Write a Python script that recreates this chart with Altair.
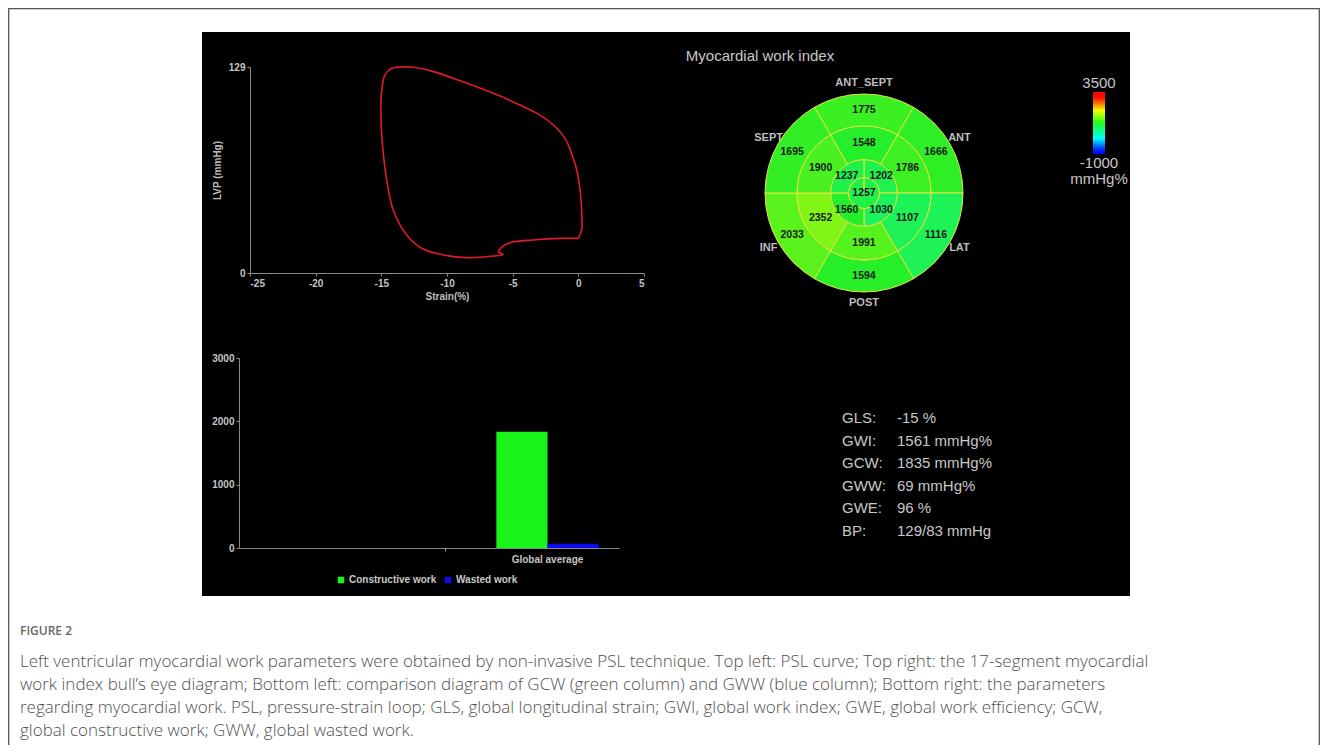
import altair as alt
import pandas as pd

# ---------------- data ----------------
# Pressure-strain loop (strain %, LV pressure mmHg), traced in drawing order
strain = [0.0, 0.25, 0.25, 0.13, -0.12, -0.43, -1.01, -1.90, -2.92, -4.44, -6.47, -8.50,
          -11.04, -12.56, -13.58, -14.21, -14.72, -14.97, -15.03, -14.90, -14.59, -14.09,
          -13.07, -11.93, -10.28, -8.50, -6.47, -5.71, -6.09, -5.85, -5.20, -3.43, -1.40, 0.0]
lvp = [21.7, 26.9, 39.5, 52.0, 64.5, 72.8, 84.3, 92.7, 98.9, 105.2, 112.5, 118.8,
       126.1, 128.8, 129.0, 128.2, 124.0, 114.6, 97.9, 79.1, 58.2, 39.5,
       23.8, 15.5, 11.3, 9.6, 10.6, 11.5, 13.3, 16.1, 19.0, 20.7, 21.7, 21.7]

# Bar chart
bar_categories = [" ", "Global average"]
bar_series = ["Constructive work", "Wasted work"]
bar_values = [1835, 69]

# Bull's eye (clockwise from top / upper-right)
sector_names = ["ANT_SEPT", "ANT", "LAT", "POST", "INF", "SEPT"]
basal_values = [1775, 1666, 1116, 1594, 2033, 1695]
mid_values = [1548, 1786, 1107, 1991, 2352, 1900]
apical_values = [1202, 1030, 1560, 1237]
apex_value = 1257
color_domain = [-1000, -600, 1600, 3400, 3500]
color_range = ["#0000ff", "#00ffff", "#26ee26", "#ffff00", "#ff0000"]
colorbar_labels = ["3500", "-1000", "mmHg%"]

# Parameters table
stat_names = ["GLS:", "GWI:", "GCW:", "GWW:", "GWE:", "BP:"]
stat_values = ["-15 %", "1561 mmHg%", "1835 mmHg%", "69 mmHg%", "96 %", "129/83 mmHg"]

caption_head = "FIGURE 2"
caption_lines = [
    "Left ventricular myocardial work parameters were obtained by non-invasive PSL technique. Top left: PSL curve; Top right: the 17-segment myocardial",
    "work index bull\u2019s eye diagram; Bottom left: comparison diagram of GCW (green column) and GWW (blue column); Bottom right: the parameters",
    "regarding myocardial work. PSL, pressure-strain loop; GLS, global longitudinal strain; GWI, global work index; GWE, global work efficiency; GCW,",
    "global constructive work; GWW, global wasted work.",
]

# ---------------- tables ----------------
W, H = 1312, 737
CX, CY = 856, 185
FONT = "Liberation Sans"

loop_df = pd.DataFrame({"strain": strain, "lvp": lvp, "i": list(range(len(strain)))})
bar_df = pd.DataFrame({"group": ["Global average"] * 2, "series": bar_series, "value": bar_values})

rows = []
for k, v in enumerate(basal_values):
    rows.append(dict(value=v, t0=-30 + 60 * k, t1=30 + 60 * k, tm=60 * k, r_in=3, r_out=4, r_lab=3.5))
for k, v in enumerate(mid_values):
    rows.append(dict(value=v, t0=-30 + 60 * k, t1=30 + 60 * k, tm=60 * k, r_in=2, r_out=3, r_lab=2.5))
for k, v in enumerate(apical_values):
    rows.append(dict(value=v, t0=90 * k, t1=90 * (k + 1), tm=45 + 90 * k, r_in=1, r_out=2, r_lab=1.5))
rows.append(dict(value=apex_value, t0=0, t1=360, tm=0, r_in=0, r_out=1, r_lab=0))
seg_df = pd.DataFrame(rows)
sector_df = pd.DataFrame({"name": sector_names, "tm": [60 * k for k in range(6)], "r_lab": [4.35] * 6})

stats_df = pd.DataFrame({"name": stat_names, "val": stat_values})
cap_df = pd.DataFrame({"line": list(range(len(caption_lines))), "txt": caption_lines})
one = pd.DataFrame({"k": [0]})

theta_scale = alt.Scale(domain=[0, 360], range=[0, 6.283185307])
radius_scale = alt.Scale(type="linear", domain=[0, 1, 2, 3, 4], range=[0, 15.5, 33.3, 67, 99], zero=False, nice=False)

ax = dict(domainColor="#8a8a8a", tickColor="#8a8a8a", tickSize=3, labelColor="#c4c4c4",
          labelFont=FONT, labelFontSize=10, labelFontWeight="bold", grid=False, zindex=2,
          titleColor="#bdbdbd", titleFont=FONT, titleFontSize=10, titleFontWeight="bold", labelPadding=2,
          labelExpr="'' + datum.value")

# ---------------- layers ----------------
frame = alt.Chart(one).mark_rect(fill="white", stroke="#555555", strokeWidth=1.3).encode(
    x=alt.value(0.7), x2=alt.value(W - 0.7), y=alt.value(0.7), y2=alt.value(H + 30))

panel = alt.Chart(one).mark_rect(fill="black").encode(
    x=alt.value(194), x2=alt.value(1122), y=alt.value(24), y2=alt.value(588))

loop = alt.Chart(loop_df).mark_line(color="#e01a2a", strokeWidth=1.6, interpolate="catmull-rom").encode(
    x=alt.X("strain:Q", scale=alt.Scale(domain=[-25, 5], range=[242, 636], nice=False, zero=False),
            axis=alt.Axis(orient="bottom", offset=265 - H, values=[-25, -20, -15, -10, -5, 0, 5],
                          title="Strain(%)", titlePadding=3, **ax)),
    y=alt.Y("lvp:Q", scale=alt.Scale(domain=[0, 129], range=[265, 59], nice=False),
            axis=alt.Axis(orient="left", offset=-242, values=[0, 129], title="LVP (mmHg)", titlePadding=6, **ax)),
    order="i:Q")

bars = alt.Chart(bar_df).mark_bar().encode(
    x=alt.X("group:N", scale=alt.Scale(domain=bar_categories, range=[231, 611], paddingInner=0,
                                       paddingOuter=0.857, align=0.884),
            axis=alt.Axis(orient="bottom", offset=540 - H, title=None, labelAngle=0,
                          **{**ax, "tickColor": {"condition": {"test": "datum.value == 'Global average'", "value": "transparent"},
                                                 "value": "#8a8a8a"}, "labelPadding": 3, "labelExpr": "datum.label"})),
    xOffset=alt.XOffset("series:N", scale=alt.Scale(domain=bar_series, paddingInner=0, paddingOuter=0)),
    y=alt.Y("value:Q", scale=alt.Scale(domain=[0, 3000], range=[540, 350], nice=False),
            axis=alt.Axis(orient="left", offset=-231, values=[0, 1000, 2000, 3000], title=None, **ax)),
    color=alt.Color("series:N", scale=alt.Scale(domain=bar_series, range=["#18f318", "#0b0bee"]),
                    legend=alt.Legend(orient="none", legendX=328, legendY=567, direction="horizontal", title=None,
                                      symbolType="square", symbolSize=42, symbolStrokeWidth=0,
                                      labelColor="#c8c8c8", labelFont=FONT, labelFontSize=10,
                                      labelFontWeight="bold", labelOffset=3, columnPadding=6, padding=0)))

sector_text = alt.Chart(sector_df).mark_text(font=FONT, fontSize=11, fontWeight="bold", color="#bdbdbd").encode(
    theta=alt.Theta("tm:Q", stack=None, scale=theta_scale),
    radius=alt.Radius("r_lab:Q", scale=radius_scale),
    text="name:N", x=alt.value(CX), y=alt.value(CY))

arcs = alt.Chart(seg_df).mark_arc(stroke="#e6e640", strokeWidth=1).encode(
    theta=alt.Theta("t0:Q", stack=None, scale=theta_scale),
    theta2="t1:Q",
    radius=alt.Radius("r_out:Q", scale=radius_scale),
    radius2="r_in:Q",
    color=alt.Color("value:Q", scale=alt.Scale(domain=color_domain, range=color_range, interpolate="rgb"),
                    legend=None),
    x=alt.value(CX), y=alt.value(CY))

seg_text = alt.Chart(seg_df).mark_text(font=FONT, fontSize=10.5, fontWeight="bold", color="#1a1a1a").encode(
    theta=alt.Theta("tm:Q", stack=None, scale=theta_scale),
    radius=alt.Radius("r_lab:Q", scale=radius_scale),
    text=alt.Text("value:Q", format="d"), x=alt.value(CX), y=alt.value(CY))

# colour bar of the device display (red top -> blue bottom)
cbar = alt.Chart(one).mark_rect(
    fill=alt.Gradient(gradient="linear", x1=0, x2=0, y1=0, y2=1,
                      stops=[alt.GradientStop(offset=0.0, color="#ff0000"),
                             alt.GradientStop(offset=0.1, color="#ff1000"),
                             alt.GradientStop(offset=0.3, color="#f0ff00"),
                             alt.GradientStop(offset=0.5, color="#20ff20"),
                             alt.GradientStop(offset=0.75, color="#00ffff"),
                             alt.GradientStop(offset=0.92, color="#0030ff"),
                             alt.GradientStop(offset=1.0, color="#0000ff")])
).encode(x=alt.value(1085), x2=alt.value(1097), y=alt.value(84), y2=alt.value(146))

title = alt.Chart(one).mark_text(font=FONT, fontSize=15, color="#c8c8c8", text="Myocardial work index").encode(
    x=alt.value(752), y=alt.value(48))

cb_top = alt.Chart(one).mark_text(font=FONT, fontSize=15, color="#c8c8c8", text=colorbar_labels[0]).encode(
    x=alt.value(1091), y=alt.value(75))
cb_bot = alt.Chart(one).mark_text(font=FONT, fontSize=15, color="#c8c8c8", text=colorbar_labels[1]).encode(
    x=alt.value(1091), y=alt.value(155))
cb_unit = alt.Chart(one).mark_text(font=FONT, fontSize=15, color="#c8c8c8", text=colorbar_labels[2]).encode(
    x=alt.value(1091), y=alt.value(171))

stat_y = alt.Y("name:N", scale=alt.Scale(type="point", domain=stat_names, range=[410, 523], padding=0), axis=None)
stats_l = alt.Chart(stats_df).mark_text(font=FONT, fontSize=15, color="#c8c8c8", align="left").encode(
    x=alt.value(834), y=stat_y, text="name:N")
stats_v = alt.Chart(stats_df).mark_text(font=FONT, fontSize=15, color="#c8c8c8", align="left").encode(
    x=alt.value(889), y=stat_y, text="val:N")

cap_head = alt.Chart(one).mark_text(font="Open Sans", fontSize=12, fontWeight=600, color="#666666",
                                    align="left", text=caption_head).encode(x=alt.value(12), y=alt.value(623))
cap = alt.Chart(cap_df).mark_text(font="Open Sans", fontSize=17, fontWeight=300, color="#505050", align="left").encode(
    x=alt.value(12),
    y=alt.Y("line:O", scale=alt.Scale(type="point", domain=list(range(len(caption_lines))), range=[654, 723], padding=0),
            axis=None),
    text="txt:N")

chart = alt.layer(
    frame, panel, loop, bars, sector_text, arcs, seg_text, cbar, title, cb_top, cb_bot, cb_unit,
    stats_l, stats_v, cap_head, cap
).resolve_scale(
    x="independent", y="independent", color="independent"
).resolve_axis(
    x="independent", y="independent"
).resolve_legend(
    color="independent"
).properties(
    width=W, height=H, padding=0, autosize=alt.AutoSizeParams(type="none"), background="white"
).configure_view(strokeWidth=0)

chart.save("out.html", embed_options={"renderer": "svg", "actions": False})
